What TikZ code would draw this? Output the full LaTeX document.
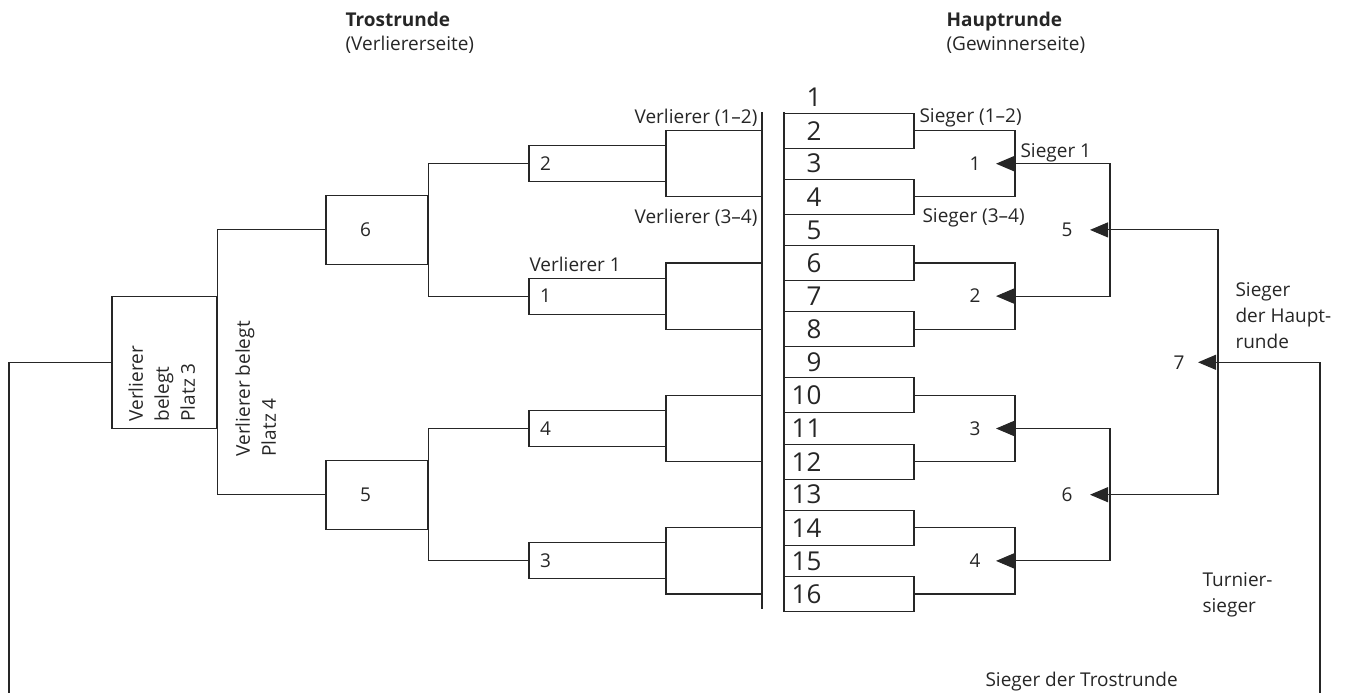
\documentclass[tikz,border=0pt]{standalone}
\usepackage{fontspec}
\setmainfont{Open Sans}
\usetikzlibrary{arrows.meta}
\begin{document}
\begin{tikzpicture}[x=1pt,y=-1pt,line width=1.1pt,color=black!85,
  lbl/.style={font=\fontsize{19}{26}\selectfont,inner sep=0pt},
  num/.style={font=\fontsize{26}{30}\selectfont,inner sep=0pt,anchor=east},
  hdr/.style={font=\fontsize{19}{22}\selectfont\bfseries,inner sep=0pt,anchor=base west},
  mbox/.style={draw,minimum width=130pt,minimum height=35pt,inner sep=0pt},
  brk/.style={draw,minimum width=96pt,minimum height=66.2pt,inner sep=0pt},
  tbox/.style={draw,font=\fontsize{19}{26}\selectfont,minimum height=36pt,text width=115pt,inner xsep=11pt,inner ysep=0pt,align=left},
  sbox/.style={draw,font=\fontsize{19}{26}\selectfont,minimum height=69pt,text width=34pt,inner xsep=34pt,inner ysep=0pt,align=left},
  arr/.style={-{Triangle[length=18pt,width=15pt]}}]
\useasboundingbox (0,0) rectangle (1349,693);

% headers
\node[hdr] (h1) at (345,27) {Trostrunde};
\node[lbl,anchor=base west] (h1b) at (345,51) {(Verliererseite)};
\node[hdr] (h2) at (946,27) {Hauptrunde};
\node[lbl,anchor=base west] (h2b) at (946,51) {(Gewinnerseite)};

% main round: vertical line, boxes, numbers
\coordinate (mt) at (784,112);
\coordinate (mb) at (784,610);
\draw (mt) -- (mb);
\foreach \m in {2,4,...,16}{
  \pgfmathsetmacro\yy{97.5+(\m-1)*33.1}
  \node[mbox] (m\m) at (849,\yy) {};
}
\foreach \n in {1,...,16}{
  \pgfmathsetmacro\yy{97.5+(\n-1)*33.1}
  \node[num] (n\n) at (822,\yy) {\n};
}

% main round brackets
\coordinate (w1) at (1015,163.7);
\coordinate (w2) at (1015,296.1);
\coordinate (w3) at (1015,428.5);
\coordinate (w4) at (1015,560.9);
\draw (m2.east) -| (w1); \draw (m4.east) -| (w1);
\draw (m6.east) -| (w2); \draw (m8.east) -| (w2);
\draw (m10.east) -| (w3); \draw (m12.east) -| (w3);
\draw (m14.east) -| (w4); \draw (m16.east) -| (w4);

\node[lbl] (q1) at (975,163.7) {1};
\node[lbl] (q2) at (975,296.1) {2};
\node[lbl] (q3) at (975,428.5) {3};
\node[lbl] (q4) at (975,560.9) {4};
\node[lbl] (q5) at (1067,229.9) {5};
\node[lbl] (q6) at (1067,494.7) {6};
\node[lbl] (q7) at (1179,362.3) {7};

\coordinate (tip1) at (996,163.7);
\coordinate (tip2) at (996,296.1);
\coordinate (tip3) at (996,428.5);
\coordinate (tip4) at (996,560.9);
\coordinate (tip5) at (1090,229.9);
\coordinate (tip6) at (1090,494.7);
\coordinate (tip7) at (1198,362.3);
\coordinate (w5) at (1110,229.9);
\coordinate (w6) at (1110,494.7);
\coordinate (w7) at (1218,362.3);
\coordinate (w8) at (1320,362.3);
\coordinate (endR) at (1320,693);
\draw[arr] (w5) |- (tip1);
\draw[arr] (w5) |- (tip2);
\draw[arr] (w6) |- (tip3);
\draw[arr] (w6) |- (tip4);
\draw[arr] (w7) |- (tip5);
\draw[arr] (w7) |- (tip6);
\draw[arr] (w8) -- (tip7);
\draw (w8) -- (endR);

% main round labels
\node[lbl,anchor=base west] (s12) at (919,122) {Sieger (1–2)};
\node[lbl,anchor=base west] (s34) at (922,222) {Sieger (3–4)};
\node[lbl,anchor=base west] (s1) at (1020,157) {Sieger 1};
\node[lbl,anchor=base west,align=left] (sh) at (1235,348) {Sieger\\der Haupt-\\runde};
\node[lbl,anchor=base west,align=left] (ts) at (1202,612) {Turnier-\\sieger};
\node[lbl,anchor=base west] (st) at (985,686) {Sieger der Trostrunde};

% consolation round
\coordinate (lt) at (762,112);
\coordinate (lb) at (762,609);
\draw (lt) -- (lb);
\node[brk] (bA) at (714,163.7) {};
\node[brk] (bB) at (714,296.1) {};
\node[brk] (bC) at (714,428.5) {};
\node[brk] (bD) at (714,560.9) {};
\node[tbox] (t2) at (597.5,163.7) {2};
\node[tbox] (t1) at (597.5,296.1) {1};
\node[tbox] (t4) at (597.5,428.5) {4};
\node[tbox] (t3) at (597.5,560.9) {3};
\node[sbox] (b6) at (377,229.9) {6};
\node[sbox] (b5) at (377,494.7) {5};
\node[draw,minimum width=105pt,minimum height=132pt,inner sep=0pt] (p3) at (164.5,362.3) {};
\coordinate (endL) at (9,693);

\draw (t2.west) -- (t2.west -| b6.east) |- (t1.west);
\draw (t4.west) -- (t4.west -| b5.east) |- (t3.west);
\draw (b6.west) -- (b6.west -| p3.east) |- (b5.west);
\draw (p3.west) -| (endL);

\node[lbl,anchor=base east] (v12) at (758,123) {Verlierer (1–2)};
\node[lbl,anchor=base east] (v34) at (758,223) {Verlierer (3–4)};
\node[lbl,anchor=base west] (v1) at (529,271) {Verlierer 1};
\node[lbl,rotate=90,anchor=north west,align=left] (p3t) at (128,422) {Verlierer\\belegt\\Platz 3};
\node[lbl,rotate=90,anchor=north west,align=left] (p4t) at (235,457) {Verlierer belegt\\Platz 4};
\end{tikzpicture}
\end{document}
